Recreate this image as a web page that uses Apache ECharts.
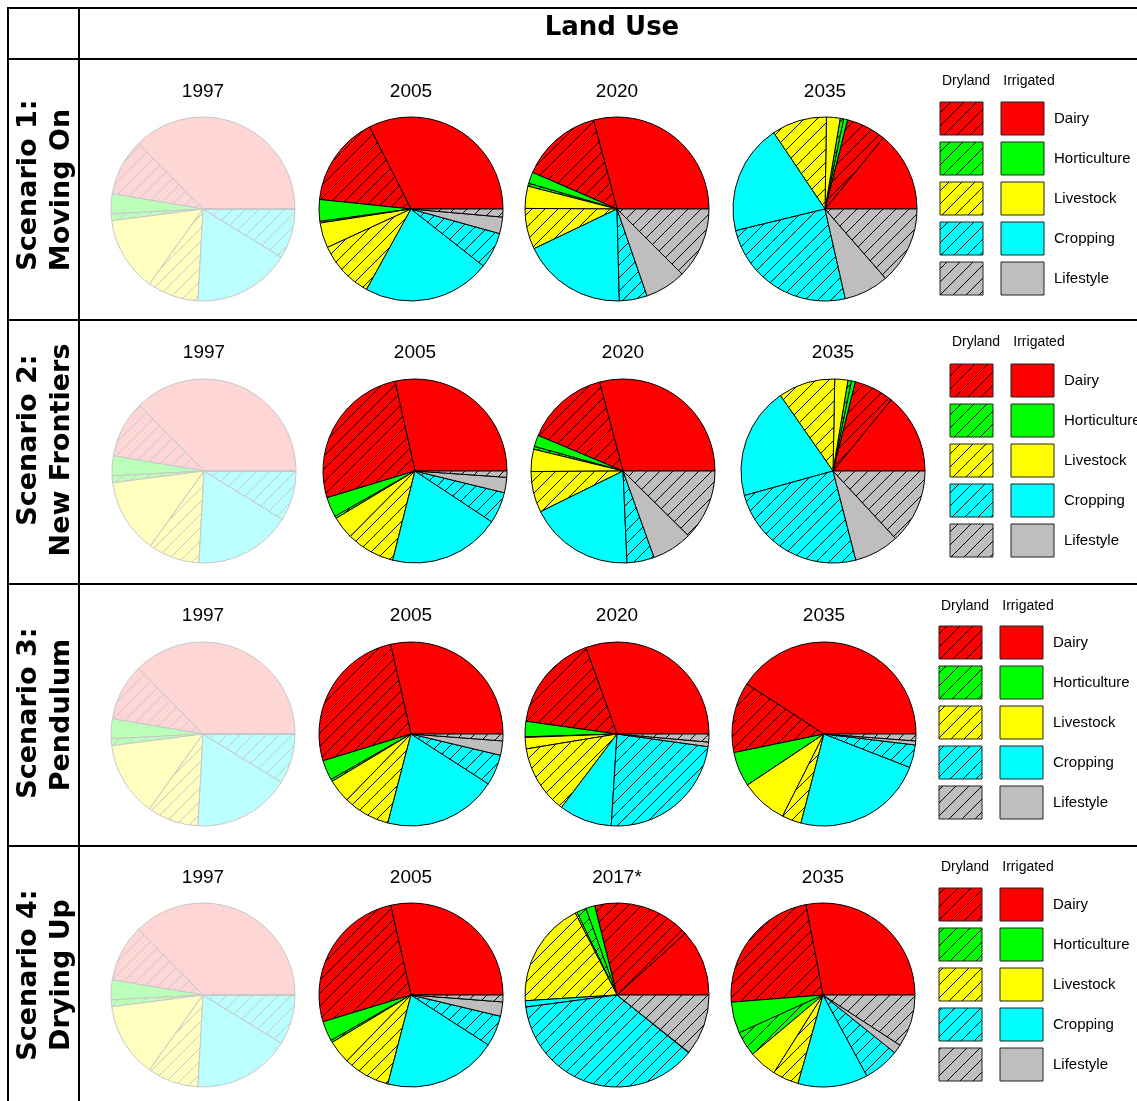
<!DOCTYPE html>
<html><head><meta charset="utf-8">
<script src="https://cdn.jsdelivr.net/npm/echarts@6/dist/echarts.min.js"></script>
<style>html,body{margin:0;padding:0;background:#fff;}#c{width:1137px;height:1101px;}</style>
</head><body><div id="c"></div>
<script>
// ---- data ----
const landUses = ['Dairy','Horticulture','Livestock','Cropping','Lifestyle'];
const waterTypes = ['Irrigated','Dryland'];
const legendHeaders = ['Dryland','Irrigated'];
const mainTitle = 'Land Use';
const scenarioNames = [['Scenario 1:','Moving On'],['Scenario 2:','New Frontiers'],['Scenario 3:','Pendulum'],['Scenario 4:','Drying Up']];
const yearLabels = [['1997','2005','2020','2035'],['1997','2005','2020','2035'],['1997','2005','2020','2035'],['1997','2005','2017*','2035']];
// slice order: Dairy irr, Dairy dry, Hort irr, Hort dry, Livestock irr, Livestock dry, Cropping irr, Cropping dry, Lifestyle irr, Lifestyle dry (%)
const land1997 = [37.4,10.0,3.5,1.2,13.1,9.0,17.1,8.8,0,0];
const s1y2005 = [32.4,15.9,3.8,0.3,4.4,10.1,22.4,6.3,2.9,1.4];
const s1y2020 = [29.1,14.4,2.0,0.5,3.9,7.2,18.3,4.9,7.2,12.5];
const s1y2035 = [14.1,7.0,0.7,0.6,2.4,9.7,19.4,24.8,7.9,13.6];
const s2y2005 = [28.5,26.2,3.5,0.4,4.0,8.5,19.6,5.5,2.7,1.1];
const s2y2020 = [29.1,14.6,2.0,0.5,3.9,7.2,18.4,4.8,7.1,12.4];
const s2y2035 = [14.1,7.0,0.7,0.6,2.3,10.0,19.6,24.7,7.9,13.1];
const s3y2005 = [28.5,26.1,3.5,0.4,4.1,8.2,19.9,5.4,2.5,1.2];
const s3y2020 = [30.5,17.3,2.7,0.1,2.0,12.1,9.3,23.8,0.8,1.4];
const s3y2035 = [40.8,12.4,6.1,0,8.2,3.4,23.1,4.0,0.7,1.2];
const s4y2005 = [28.5,26.1,3.5,0.4,4.1,8.2,19.9,5.4,2.5,1.2];
const s4y2017 = [11.7,17.2,1.6,1.7,0.3,18.5,1.1,37.1,0.1,10.7];
const s4y2035 = [28.0,23.3,5.5,4.4,4.9,4.6,12.3,6.3,1.6,9.2];
const pieData = [
  [land1997, s1y2005, s1y2020, s1y2035],
  [land1997, s2y2005, s2y2020, s2y2035],
  [land1997, s3y2005, s3y2020, s3y2035],
  [land1997, s4y2005, s4y2017, s4y2035]
];

// ---- styling / layout ----
const baseColors = ['#FF0000','#00FF00','#FFFF00','#00FFFF','#BEBEBE'];
const fadedColors = ['rgb(255,214,214)','rgb(187,255,187)','rgb(255,255,192)','rgb(187,255,255)','rgb(235,235,235)'];
function hatch(bg, line){
  const s = 13, c = document.createElement('canvas');
  c.width = s; c.height = s;
  const g = c.getContext('2d');
  g.fillStyle = bg; g.fillRect(0,0,s,s);
  g.strokeStyle = line; g.lineWidth = 1;
  g.beginPath();
  g.moveTo(0,s); g.lineTo(s,0);
  g.moveTo(-2,2); g.lineTo(2,-2);
  g.moveTo(s-2,s+2); g.lineTo(s+2,s-2);
  g.stroke();
  return {image: c, repeat: 'repeat'};
}
function sliceFills(faded){
  const cols = faded ? fadedColors : baseColors;
  const lc = faded ? 'rgb(200,200,200)' : '#000';
  const out = [];
  cols.forEach(col => { out.push(col); out.push(hatch(col, lc)); });
  return out;
}
const fillsNormal = sliceFills(false);
const fillsFaded = sliceFills(true);

const rowY = [209, 471, 734, 995];
const pieX = [[203,411,617,825],[204,415,623,833],[203,411,617,824],[203,411,617,823]];
const yearY = [91, 352, 615, 877];
const legX = [940, 950, 939, 939];
const legHeadY = [81, 342, 606, 867];
const legFirstY = [118, 380, 642, 904];
const labelCY = [[185,190],[440,450],[713,715],[975,975]];
const R = 92;

const series = [];
const graphic = [];
const FONT_H = 'Liberation Sans, Arial, sans-serif';
const FONT_B = 'DejaVu Sans, sans-serif';

for (let r = 0; r < 4; r++) {
  for (let c = 0; c < 4; c++) {
    const faded = (c === 0);
    const fills = faded ? fillsFaded : fillsNormal;
    const vals = pieData[r][c];
    series.push({
      type: 'pie',
      center: [pieX[r][c], rowY[r]],
      radius: R,
      startAngle: 0,
      clockwise: false,
      silent: true,
      animation: false,
      label: {show: false},
      labelLine: {show: false},
      emphasis: {disabled: true},
      data: vals.map((v, i) => ({
        value: v,
        name: landUses[Math.floor(i/2)] + ' (' + waterTypes[i%2] + ')',
        itemStyle: {color: fills[i], borderColor: faded ? 'rgb(200,200,200)' : '#000', borderWidth: 1}
      }))
    });
    graphic.push({type:'text', x: pieX[r][c], y: yearY[r] + 1, style:{text: yearLabels[r][c], font: '19px ' + FONT_H, fill:'#000', textAlign:'center', textVerticalAlign:'middle'}});
  }
  // legend
  const lx = legX[r];
  graphic.push({type:'text', x: lx + 26, y: legHeadY[r], style:{text: legendHeaders[0], font:'14px ' + FONT_H, fill:'#000', textAlign:'center', textVerticalAlign:'middle'}});
  graphic.push({type:'text', x: lx + 89, y: legHeadY[r], style:{text: legendHeaders[1], font:'14px ' + FONT_H, fill:'#000', textAlign:'center', textVerticalAlign:'middle'}});
  for (let k = 0; k < 5; k++) {
    const cy = legFirstY[r] + k * 40;
    graphic.push({type:'rect', shape:{x: lx, y: cy - 16, width: 43, height: 33}, style:{fill: fillsNormal[2*k+1], stroke:'#222', lineWidth:1}, silent:true});
    graphic.push({type:'rect', shape:{x: lx + 61, y: cy - 16, width: 43, height: 33}, style:{fill: fillsNormal[2*k], stroke:'#222', lineWidth:1}, silent:true});
    graphic.push({type:'text', x: lx + 114, y: cy + 1, style:{text: landUses[k], font:'15px ' + FONT_H, fill:'#000', textAlign:'left', textVerticalAlign:'middle'}});
  }
  // scenario labels
  graphic.push({type:'text', x: 29, y: labelCY[r][0], rotation: Math.PI/2, style:{text: scenarioNames[r][0], font:'bold 27px ' + FONT_B, fill:'#000', textAlign:'center', textVerticalAlign:'middle'}});
  graphic.push({type:'text', x: 62, y: labelCY[r][1], rotation: Math.PI/2, style:{text: scenarioNames[r][1], font:'bold 27px ' + FONT_B, fill:'#000', textAlign:'center', textVerticalAlign:'middle'}});
}
// title
graphic.push({type:'text', x: 612, y: 28, style:{text: mainTitle, font:'bold 26px ' + FONT_B, fill:'#000', textAlign:'center', textVerticalAlign:'middle'}});
// table lines
const L = (x1,y1,x2,y2) => graphic.push({type:'line', shape:{x1,y1,x2,y2}, style:{stroke:'#000', lineWidth:2}, silent:true});
L(7,8,1137,8);
L(8,7,8,1101);
L(79,8,79,1101);
L(8,59,1137,59);
L(8,320,1137,320);
L(8,584,1137,584);
L(8,846,1137,846);

const chart = echarts.init(document.getElementById('c'), null, {renderer:'canvas'});
chart.setOption({animation:false, backgroundColor:'#fff', series, graphic});
</script>
</body></html>
